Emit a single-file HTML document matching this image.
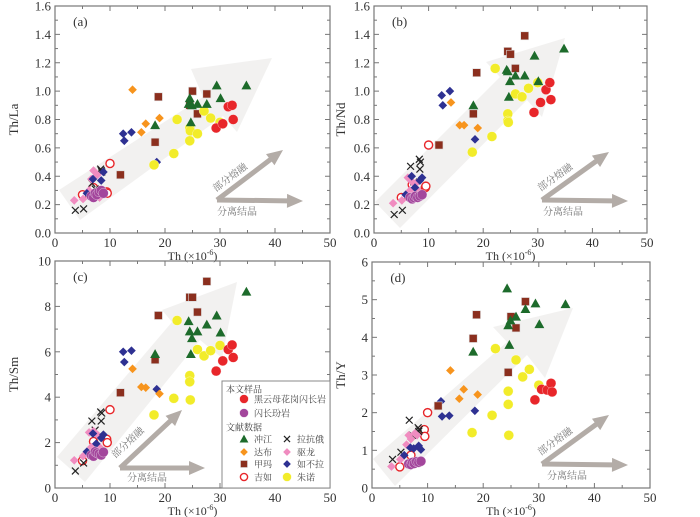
<!DOCTYPE html>
<html><head><meta charset="utf-8">
<style>
body{margin:0;background:#fff;}
svg{display:block;font-family:"Liberation Serif","Noto Serif CJK SC",serif;}
</style></head>
<body>
<svg id="fig" width="700" height="517" viewBox="0 0 700 517" xmlns="http://www.w3.org/2000/svg"></svg>
<script>
// ---- data: Th (x10^-6) per series, and ratios per panel ----
const redTh=[29.3,30.5,31.5,32.2,32.4];
const redA=[0.74,0.77,0.89,0.90,0.80];
const redB=[0.85,0.92,1.01,1.06,0.94];
const redC=[5.15,5.6,6.1,6.3,5.75];
const redD=[2.34,2.62,2.6,2.78,2.55];

const purTh=[6.6,7.0,7.3,7.6,8.0,8.4,8.8];
const purA=[0.26,0.25,0.28,0.27,0.29,0.30,0.28];
const purB=[0.25,0.24,0.25,0.26,0.25,0.26,0.27];
const purC=[1.45,1.4,1.6,1.55,1.5,1.45,1.58];
const purD=[0.64,0.62,0.68,0.65,0.70,0.68,0.71];

const greTh=[18.2,24.3,24.5,24.9,24.7,25.9,27.6,29.4,30.1,34.8];
const greA=[0.76,0.91,0.95,0.90,0.78,0.91,0.91,1.04,0.95,1.04];
const greB=[0.90,1.15,1.14,1.07,0.96,1.11,1.11,1.25,1.07,1.30];
const greC=[5.9,7.35,6.9,6.6,5.9,6.9,7.2,7.6,6.85,8.65];
const greD=[3.62,5.3,4.32,4.45,3.8,4.55,4.75,4.9,4.35,4.88];

const oraTh=[14.1,15.7,16.5,19.0];
const oraA=[1.01,0.71,0.77,0.81];
const oraB=[0.92,0.76,0.76,0.74];
const oraC=[5.25,4.45,4.42,4.15];
const oraD=[3.12,2.37,2.62,2.48];

const broTh=[11.9,18.2,18.8,24.5,25.0,25.9,27.6];
const broA=[0.41,0.64,0.96,0.90,1.00,0.84,0.98];
const broB=[0.62,0.84,1.13,1.28,1.26,1.16,1.39];
const broC=[4.2,5.65,7.6,8.4,8.4,7.75,9.1];
const broD=[2.18,3.97,4.6,3.07,4.55,4.25,4.95];

const opnTh=[5.0,7.0,9.4,9.5,10.0];
const opnA=[0.27,0.32,0.29,0.28,0.49];
const opnB=[0.25,0.34,0.32,0.33,0.62];
const opnC=[1.2,2.05,2.15,2.0,3.45];
const opnD=[0.56,0.87,1.55,1.37,2.0];

const crsTh=[3.7,5.2,6.7,7.3,8.3,8.4,8.5];
const crsA=[0.16,0.17,0.35,0.31,0.45,0.44,0.43];
const crsB=[0.13,0.16,0.47,0.36,0.52,0.45,0.50];
const crsC=[0.75,1.1,2.95,2.55,3.35,2.95,3.3];
const crsD=[0.76,0.95,1.8,1.4,1.6,1.5,1.55];

const pnkTh=[3.5,5.1,6.2,6.6,7.0,7.7,8.1];
const pnkA=[0.23,0.24,0.30,0.38,0.44,0.41,0.25];
const pnkB=[0.21,0.23,0.39,0.30,0.36,0.35,0.30];
const pnkC=[1.22,1.4,2.45,1.8,2.5,2.35,1.8];
const pnkD=[0.57,0.76,1.15,1.4,1.3,1.45,1.4];

const navTh=[5.8,6.9,7.5,8.4,8.8,12.4,12.6,13.9,18.5];
const navA=[0.28,0.38,0.27,0.37,0.43,0.70,0.65,0.71,0.50];
const navB=[0.27,0.40,0.32,0.37,0.39,0.97,0.90,1.00,0.66];
const navC=[1.6,2.4,1.95,2.2,2.35,6.0,5.55,6.05,4.35];
const navD=[0.87,1.07,1.05,1.12,1.02,2.3,1.9,1.92,2.05];

const yelTh=[18.0,21.6,22.2,24.5,24.5,24.6,25.9,27.1,28.3,30.0];
const yelA=[0.48,0.56,0.80,0.74,0.65,0.72,0.70,0.86,0.81,0.78];
const yelB=[0.57,0.68,1.16,0.84,0.79,0.78,0.98,0.96,1.02,1.06];
const yelC=[3.22,3.95,7.38,4.95,4.68,3.88,6.1,5.82,6.05,6.28];
const yelD=[1.47,1.93,3.7,2.57,2.22,1.4,3.4,2.95,3.15,2.73];

const xTicks=[0,10,20,30,40,50];
const yTicksA=[0,0.2,0.4,0.6,0.8,1.0,1.2,1.4,1.6];
const yTicksC=[0,2,4,6,8,10];
const yTicksD=[0,1,2,3,4,5,6];

const NS="http://www.w3.org/2000/svg";
const svg=document.getElementById('fig');
function mk(tag,attrs,parent){const e=document.createElementNS(NS,tag);for(const k in attrs)e.setAttribute(k,attrs[k]);(parent||svg).appendChild(e);return e;}

const series=[
 {key:'jiru',th:opnTh,v:[opnA,opnB,opnC,opnD],shape:'open',color:'#e8262a'},
 {key:'lakange',th:crsTh,v:[crsA,crsB,crsC,crsD],shape:'cross',color:'#222'},
 {key:'qulong',th:pnkTh,v:[pnkA,pnkB,pnkC,pnkD],shape:'diamond',color:'#f08cc0'},
 {key:'rubula',th:navTh,v:[navA,navB,navC,navD],shape:'diamond',color:'#2e3192'},
 {key:'dabu',th:oraTh,v:[oraA,oraB,oraC,oraD],shape:'diamond',color:'#f7941d'},
 {key:'jiama',th:broTh,v:[broA,broB,broC,broD],shape:'square',color:'#8b2f1e'},
 {key:'zhunuo',th:yelTh,v:[yelA,yelB,yelC,yelD],shape:'circle',color:'#f2ec2a'},
 {key:'chongjiang',th:greTh,v:[greA,greB,greC,greD],shape:'triangle',color:'#1d6b2b'},
 {key:'diorite-porphyrite',th:purTh,v:[purA,purB,purC,purD],shape:'circle',color:'#a3469c'},
 {key:'granodiorite',th:redTh,v:[redA,redB,redC,redD],shape:'circle',color:'#e8262a'}
];

function marker(g,shape,color,cx,cy,s){
  let e;
  if(shape==='circle'){e=mk('circle',{cx:cx,cy:cy,r:s*0.55,fill:color,stroke:'#fff','stroke-width':0.5,'stroke-opacity':0.6},g);}
  else if(shape==='open'){e=mk('circle',{cx:cx,cy:cy,r:s*0.45,fill:'#fff',stroke:color,'stroke-width':1.4},g);}
  else if(shape==='square'){e=mk('rect',{x:cx-s*0.5,y:cy-s*0.5,width:s,height:s,fill:color,stroke:'#ddd','stroke-width':0.6},g);}
  else if(shape==='diamond'){const r=s*0.48;e=mk('polygon',{points:`${cx},${cy-r} ${cx+r},${cy} ${cx},${cy+r} ${cx-r},${cy}`,fill:color},g);}
  else if(shape==='triangle'){const r=s*0.55;e=mk('polygon',{points:`${cx},${cy-r} ${cx+r},${cy+r*0.8} ${cx-r},${cy+r*0.8}`,fill:color},g);}
  else {const r=s*0.38;e=mk('path',{d:`M${cx-r},${cy-r}L${cx+r},${cy+r}M${cx-r},${cy+r}L${cx+r},${cy-r}`,stroke:color,'stroke-width':1.2},g);}
  return e;
}

const panels=[
 {id:'a',L:55,R:330,T:6,B:233,yMax:1.6,yTicks:yTicksA,fmt:1,minorY:0.1,yTitle:'Th/La',ytx:18,
  big:[[59,190],[203,97],[191,69],[272,58],[237,132],[223,116],[80,220]],
  sm:{o:[217,200],u:[283,150],r:[303,201]},lab1:[232,180],lab2:[217,215]},
 {id:'b',L:374,R:647,T:6,B:233,yMax:1.6,yTicks:yTicksA,fmt:1,minorY:0.1,yTitle:'Th/Nd',ytx:345,
  big:[[375,202],[500,77],[486,62],[565,38],[542,117],[527,100],[400,228]],
  sm:{o:[542,200],u:[609,152],r:[628,201]},lab1:[557,180],lab2:[543,215]},
 {id:'c',L:55,R:330,T:261,B:488,yMax:10,yTicks:yTicksC,fmt:0,minorY:1,yTitle:'Th/Sm',ytx:18,
  big:[[57,457],[172,322],[162,310],[237,282],[222,358],[200,340],[85,482]],
  sm:{o:[120,468],u:[182,410],r:[205,468]},lab1:[130,445],lab2:[127,481]},
 {id:'d',L:372,R:650,T:262,B:488,yMax:6,yTicks:yTicksD,fmt:0,minorY:0.5,yTitle:'Th/Y',ytx:345,
  big:[[373,459],[507,342],[493,327],[573,308],[545,378],[527,355],[395,486]],
  sm:{o:[542,464],u:[609,415],r:[628,465]},lab1:[557,444],lab2:[547,479]}
];

panels.forEach((p,pi)=>{
  const g=mk('g',{});
  
  
  const X=v=>p.L+(v/50)*(p.R-p.L);
  const Y=v=>p.B-(v/p.yMax)*(p.B-p.T);
  const ba=mk('polygon',{points:p.big.map(q=>q.join(',')).join(' '),fill:'#ecebea','fill-opacity':0.7},g);
  
  
  const sa=mk('g',{},g);
  
  
  const drawArrow=(a,b)=>{
    const dx=b[0]-a[0],dy=b[1]-a[1],len=Math.hypot(dx,dy),ux=dx/len,uy=dy/len,nx=-uy,ny=ux;
    const hl=16,hw=7,sw=2.5;
    const bx=b[0]-ux*hl,by=b[1]-uy*hl;
    mk('polygon',{points:[[a[0]+nx*sw,a[1]+ny*sw],[bx+nx*sw,by+ny*sw],[bx+nx*hw,by+ny*hw],b,[bx-nx*hw,by-ny*hw],[bx-nx*sw,by-ny*sw],[a[0]-nx*sw,a[1]-ny*sw]].map(q=>q.join(',')).join(' '),fill:'#b3aca7'},sa);
  };
  drawArrow(p.sm.o,p.sm.u);drawArrow(p.sm.o,p.sm.r);
  const ang=Math.atan2(p.sm.u[1]-p.sm.o[1],p.sm.u[0]-p.sm.o[0])*180/Math.PI;
  const l1=mk('text',{x:p.lab1[0],y:p.lab1[1],'font-size':10,fill:'#777','text-anchor':'middle',transform:`rotate(${ang} ${p.lab1[0]} ${p.lab1[1]})`},g);
  l1.textContent='部分熔融';
  
  
  const l2=mk('text',{x:p.lab2[0],y:p.lab2[1],'font-size':10,fill:'#777'},g);
  l2.textContent='分离结晶';
  
  
  series.forEach(s=>{
    const sg=mk('g',{},g);
    
    
    s.th.forEach((t,i)=>{
      const m=marker(sg,s.shape,s.color,X(t),Y(s.v[pi][i]),s.shape==='square'?8:9);
      
      
    });
  });
  const fr=mk('rect',{x:p.L,y:p.T,width:p.R-p.L,height:p.B-p.T,fill:'none',stroke:'#777','stroke-width':1.2},g);
  
  
  const xa=mk('g',{},g);
  
  
  for(let v=0;v<=50;v+=5){const x=X(v);const len=v%10===0?5:3;mk('line',{x1:x,y1:p.B,x2:x,y2:p.B-len,stroke:'#777'},xa);mk('line',{x1:x,y1:p.T,x2:x,y2:p.T+len,stroke:'#777'},xa);}
  xTicks.forEach(v=>{const t=mk('text',{x:X(v),y:p.B+14,'font-size':13,'text-anchor':'middle',fill:'#333'},xa);t.textContent=v;});
  const xt=mk('text',{x:(p.L+p.R)/2,y:p.B+27,'font-size':12,'text-anchor':'middle',fill:'#333'},g);
  xt.innerHTML='Th (×10<tspan dy="-5" font-size="8">-6</tspan><tspan dy="5">)</tspan>';
  
  
  const ya=mk('g',{},g);
  
  
  const nMin=Math.round(p.yMax/p.minorY);
  for(let i=0;i<=nMin;i++){const v=i*p.minorY;const y=Y(v);const major=p.yTicks.some(t=>Math.abs(t-v)<1e-6);const len=major?5:3;mk('line',{x1:p.L,y1:y,x2:p.L+len,y2:y,stroke:'#777'},ya);mk('line',{x1:p.R,y1:y,x2:p.R-len,y2:y,stroke:'#777'},ya);}
  p.yTicks.forEach(v=>{const t=mk('text',{x:p.L-4,y:Y(v)+4.5,'font-size':13,'text-anchor':'end',fill:'#333'},ya);t.textContent=v.toFixed(p.fmt);});
  const cy=(p.T+p.B)/2;
  const yt=mk('text',{x:p.ytx,y:cy,'font-size':13,'text-anchor':'middle',fill:'#333',transform:`rotate(-90 ${p.ytx} ${cy})`},g);
  yt.textContent=p.yTitle;
  
  
  const pl=mk('text',{x:X(3.3),y:p.T+20,'font-size':13,fill:'#333'},g);
  pl.textContent='('+p.id+')';
  
  
});

const lg=mk('g',{});


mk('rect',{x:222,y:381,width:108,height:107,fill:'#fff',stroke:'#888','stroke-width':1},lg);
const lt=(x,y,s)=>{const t=mk('text',{x:x,y:y+3.5,'font-size':9,fill:'#444'},lg);t.textContent=s;return t;};
lt(226,389,'本文样品');lt(226,427,'文献数据');
const entries=[
 ['granodiorite','circle','#e8262a',244,399,'黑云母花岗闪长岩'],
 ['diorite-porphyrite','circle','#a3469c',244,413,'闪长玢岩'],
 ['chongjiang','triangle','#1d6b2b',244,439,'冲江'],
 ['dabu','diamond','#f7941d',244,452,'达布'],
 ['jiama','square','#8b2f1e',244,464,'甲玛'],
 ['jiru','open','#e8262a',244,477,'吉如'],
 ['lakange','cross','#222',287,439,'拉抗俄'],
 ['qulong','diamond','#f08cc0',287,452,'驱龙'],
 ['rubula','diamond','#2e3192',287,464,'如不拉'],
 ['zhunuo','circle','#f2ec2a',287,477,'朱诺']
];
entries.forEach(e=>{
  const eg=mk('g',{},lg);
  
  
  marker(eg,e[1],e[2],e[3],e[4],e[1]==='square'?7:8);
  const t=mk('text',{x:e[3]+10,y:e[4]+3.5,'font-size':9,fill:'#444'},eg);
  t.textContent=e[5];
});
</script>
</body></html>
